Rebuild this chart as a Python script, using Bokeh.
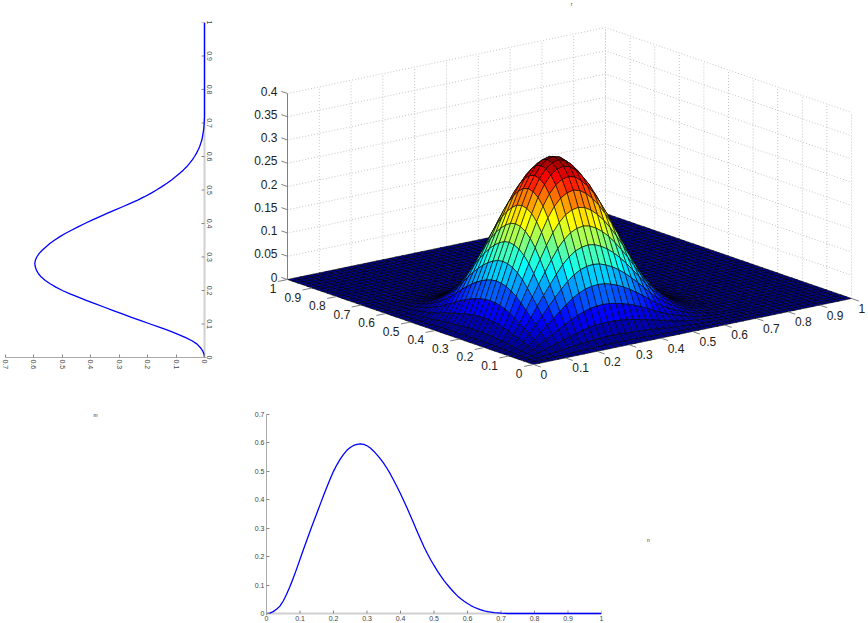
from bokeh.plotting import figure
from bokeh.layouts import row, column
from bokeh.models import FixedTicker, Range1d
from bokeh.core.properties import value
from bokeh.embed import file_html
from bokeh.resources import INLINE

FONT = "Liberation Sans"

grid = [i / 100 for i in range(101)]
curve_m = [0, .0016, .0066, .015, .026, .044, .068, .095, .125, .157,
           .191, .224, .257, .289, .321, .352, .383, .414, .444, .473,
           .500, .523, .543, .560, .574, .584, .591, .595, .597, .595,
           .590, .582, .571, .558, .544, .528, .510, .490, .468, .445,
           .421, .396, .370, .343, .316, .288, .261, .235, .211, .189,
           .169, .150, .132, .116, .101, .087, .074, .062, .052, .043,
           .035, .028, .022, .017, .013, .009, .007, .005, .003, .002,
           .001, .0005, 0, 0, 0, 0, 0, 0, 0, 0,
           0, 0, 0, 0, 0, 0, 0, 0, 0, 0,
           0, 0, 0, 0, 0, 0, 0, 0, 0, 0, 0]
curve_n = list(curve_m)
mesh = grid[::2]
mesh_m = curve_m[::2]
mesh_n = curve_n[::2]
surface = [[a * b for b in mesh_n] for a in mesh_m]

ticks_unit = [i / 10 for i in range(11)]
tick_labels_unit = ["0", "0.1", "0.2", "0.3", "0.4", "0.5", "0.6", "0.7", "0.8", "0.9", "1"]
ticks_pdf = [i / 10 for i in range(8)]
tick_labels_pdf = ["0", "0.1", "0.2", "0.3", "0.4", "0.5", "0.6", "0.7"]
ticks_z = [i / 20 for i in range(9)]
tick_labels_z = ["0", "0.05", "0.1", "0.15", "0.2", "0.25", "0.3", "0.35", "0.4"]


def proj(x, y, z=0.0):
    return 533 + 318 * x - 246 * y, 364 - 66 * x - 85 * y - 465 * z


def jet(t):
    k = min(int(t * 64), 63)
    t = (k + 1) / 64
    c = lambda v: int(round(255 * max(0.0, min(1.0, v))))
    return "#%02x%02x%02x" % (c(min(4 * t - 1.5, -4 * t + 4.5)), c(min(4 * t - .5, -4 * t + 3.5)), c(min(4 * t + .5, -4 * t + 2.5)))


def blank(width, height, xr, yr):
    f = figure(width=width, height=height, x_range=Range1d(*xr), y_range=Range1d(*yr),
               output_backend="svg", toolbar_location=None, min_border=0,
               x_axis_type=None, y_axis_type=None, frame_align=False)
    f.outline_line_color = None
    f.grid.visible = False
    return f


def tiny(f, x, y, s):
    f.text([x], [y], text=[s], text_font=value(FONT), text_font_size="5px", text_color="#333333",
           text_align="center", text_baseline="middle")


# ---- 3D panel
main = blank(638, 405, (230, 868), (405, 0))

zmax_axis = ticks_z[-1]
WALL = dict(line_color="#c4c4c4", line_width=1, line_dash="1 2")
for z in ticks_z[1:]:
    a, b, c = proj(0, 1, z), proj(1, 1, z), proj(1, 0, z)
    main.line([a[0], b[0], c[0]], [a[1], b[1], c[1]], **WALL)
for t in ticks_unit:
    a, b = proj(t, 1, 0), proj(t, 1, zmax_axis)
    main.line([a[0], b[0]], [a[1], b[1]], **WALL)
    a, b = proj(1, t, 0), proj(1, t, zmax_axis)
    main.line([a[0], b[0]], [a[1], b[1]], **WALL)

zpeak = max(max(r) for r in surface)
xs, ys, cols = [], [], []
n = len(mesh)
for i in range(n - 2, -1, -1):
    for j in range(n - 2, -1, -1):
        pts = [proj(mesh[i + a], mesh[j + b], surface[i + a][j + b]) for a, b in ((0, 0), (1, 0), (1, 1), (0, 1))]
        xs.append([p[0] for p in pts])
        ys.append([p[1] for p in pts])
        cols.append(jet(surface[i][j] / zpeak))
main.patches(xs, ys, fill_color=cols, line_color="#000000", line_width=0.6, line_alpha=1)

AX = "#808080"
za, zb = proj(0, 1, 0), proj(0, 1, zmax_axis)
main.line([za[0], zb[0]], [za[1], zb[1]], line_color=AX, line_width=1)
for t, lab in zip(ticks_unit, tick_labels_unit):
    a = proj(0, t)
    b = proj(-0.03, t)
    main.line([a[0], b[0]], [a[1], b[1]], line_color=AX, line_width=1)
    main.text([a[0]], [a[1]], text=[lab], text_font=value(FONT), text_font_size="12px", text_color="#222222",
              text_align="right", text_baseline="middle", x_offset=-11, y_offset=9)
    a = proj(t, 0)
    b = proj(t, -0.03)
    main.line([a[0], b[0]], [a[1], b[1]], line_color=AX, line_width=1)
    main.text([a[0]], [a[1]], text=[lab], text_font=value(FONT), text_font_size="12px", text_color="#222222",
              text_align="left", text_baseline="middle", x_offset=7, y_offset=10)
for z, lab in zip(ticks_z, tick_labels_z):
    a = proj(0, 1, z)
    b = proj(0, 1.025, z)
    main.line([a[0], b[0]], [a[1], b[1]], line_color=AX, line_width=1)
    main.text([a[0]], [a[1]], text=[lab], text_font=value(FONT), text_font_size="12px", text_color="#222222",
              text_align="right", text_baseline="middle", x_offset=-10, y_offset=-2.5)
tiny(main, 571, 3, "r")


def style_axis(ax, ticks, labels, line_color, line_width, orientation="horizontal"):
    ax.ticker = FixedTicker(ticks=ticks)
    ax.major_label_overrides = dict(zip(ticks, labels))
    ax.major_tick_in = 3
    ax.major_tick_out = 0
    ax.minor_tick_line_color = None
    ax.major_tick_line_color = "#888888"
    ax.axis_line_color = line_color
    ax.axis_line_width = line_width
    ax.major_label_text_font = FONT
    ax.major_label_text_font_size = "7px"
    ax.major_label_text_color = "#444444"
    ax.major_label_standoff = 2
    ax.major_label_orientation = orientation


# ---- left rotated curve (frame runs 2px past the spine, so that the curve on it is not cut)
pad_x = 2 / 284.3
left = figure(width=230, height=405, x_range=Range1d(0.7, -pad_x), y_range=Range1d(0, 1),
              output_backend="svg", toolbar_location=None, y_axis_location="right", frame_align=False,
              min_border_left=5, min_border_right=24, min_border_top=22, min_border_bottom=48)
left.outline_line_color = None
left.grid.visible = False
style_axis(left.xaxis[0], ticks_pdf, tick_labels_pdf, "#aaaaaa", 1, "vertical")
style_axis(left.yaxis[0], ticks_unit, tick_labels_unit, "#d0d0d0", 2, "vertical")
left.yaxis[0].axis_line_color = None
left.yaxis[0].major_tick_line_color = None
left.yaxis[0].major_label_standoff = 0
left.line([0, 0], [ticks_unit[0], ticks_unit[-1]], line_color="#d0d0d0", line_width=2)
left.segment([0] * len(ticks_unit), ticks_unit, [3 / 284.3] * len(ticks_unit), ticks_unit,
             line_color="#888888", line_width=1)
left.line(curve_m, grid, line_color="#0000ff", line_width=1.3, line_join="round")

mfig = blank(230, 218, (0, 230), (623, 405))
tiny(mfig, 95, 414, "m")

# ---- bottom curve
pad_y = 2 / 285.3
bottom = figure(width=410, height=218, x_range=Range1d(0, 1), y_range=Range1d(-pad_y, .7),
                output_backend="svg", toolbar_location=None, frame_align=False,
                min_border_left=36, min_border_right=39, min_border_top=9, min_border_bottom=7)
bottom.outline_line_color = None
bottom.grid.visible = False
style_axis(bottom.xaxis[0], ticks_unit, tick_labels_unit, "#d0d0d0", 2)
style_axis(bottom.yaxis[0], ticks_pdf, tick_labels_pdf, "#aaaaaa", 1)
bottom.xaxis[0].axis_line_color = None
bottom.xaxis[0].major_tick_line_color = None
bottom.xaxis[0].major_label_standoff = 0
bottom.line([ticks_unit[0], ticks_unit[-1]], [0, 0], line_color="#d0d0d0", line_width=2)
bottom.segment(ticks_unit, [0] * len(ticks_unit), ticks_unit, [3 / 285.3] * len(ticks_unit),
               line_color="#888888", line_width=1)
bottom.line(grid, curve_n, line_color="#0000ff", line_width=1.3, line_join="round")

nfig = blank(228, 218, (640, 868), (623, 405))
tiny(nfig, 648, 539, "n")

root = row(column(left, mfig, spacing=0), column(main, row(bottom, nfig, spacing=0), spacing=0), spacing=0,
           styles={"position": "absolute", "left": "0px", "top": "0px"})
open("out.html", "w").write(file_html(root, INLINE))
